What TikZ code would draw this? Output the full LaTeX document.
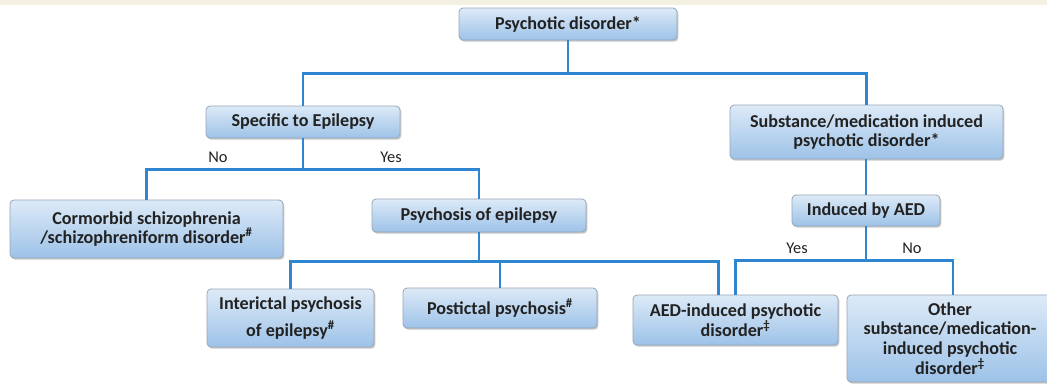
\documentclass[tikz,border=0pt]{standalone}
\usepackage{fontspec}
\setmainfont{Carlito}
\usetikzlibrary{shadows}
\definecolor{linec}{HTML}{2E86D0}
\definecolor{boxtop}{HTML}{DDEAF7}
\definecolor{boxbot}{HTML}{9DC2E8}
\definecolor{boxedge}{HTML}{97A6B8}
\definecolor{txt}{HTML}{222222}
\definecolor{beige}{HTML}{F4F0E2}
\begin{document}
\begin{tikzpicture}[x=0.75pt,y=-0.75pt,
  box/.style 2 args={draw=boxedge, line width=0.6pt, rounded corners=3pt,
    top color=boxtop, bottom color=boxbot,
    minimum width=#1*0.75pt, minimum height=#2*0.75pt, inner sep=1pt,
    align=center, font=\bfseries\fontsize{13.6}{14.8}\selectfont, text=txt,
    drop shadow={shadow xshift=1pt, shadow yshift=-1.3pt, opacity=0.35, fill=black!60}},
  conn/.style={draw=linec, line width=2.2pt},
  lbl/.style={font=\fontsize{12.3}{13}\selectfont, text=txt}]
\fill[white] (0,0) rectangle (1047,387);
\fill[beige] (0,0) rectangle (1047,4.5);
\useasboundingbox (0,0) rectangle (1047,387);

\node[box={218}{32}] (psy) at (568,24) {Psychotic disorder*};
\node[box={194}{32}] (spec) at (303,122) {Specific to Epilepsy};
\node[box={273}{54}] (subst) at (866.5,132) {Substance/medication induced\\psychotic disorder*};
\node[box={273}{58}] (comor) at (146.5,229) {Cormorbid schizophrenia\\/schizophreniform disorder\textsuperscript{\#}};
\node[box={214}{33}] (psyep) at (479,215.5) {Psychosis of epilepsy};
\node[box={148}{31}] (aed) at (866,210.5) {Induced by AED};
\node[box={167}{58}] (inter) at (290.5,318) {Interictal psychosis\\[5.5pt]of epilepsy\textsuperscript{\#}};
\node[box={194}{40}] (post) at (500,308) {Postictal psychosis\textsuperscript{\#}};
\node[box={205}{50}] (aedind) at (735.5,320) {AED-induced psychotic\\disorder\textsuperscript{‡}};
\node[box={206}{87}] (other) at (950,338.5) {Other\\substance/medication-\\induced psychotic\\disorder\textsuperscript{‡}};

\node[lbl] (no1) at (218,157) {No};
\node[lbl] (yes1) at (391,157) {Yes};
\node[lbl] (yes2) at (797,248) {Yes};
\node[lbl] (no2) at (912,248) {No};

% level 1
\path (psy.south) ++(0,33) coordinate (j1);
\draw[conn] (psy.south) -- (j1);
\draw[conn] (spec.north) |- (j1) -| (subst.north);
% level 2
\path (spec.south) ++(0,31) coordinate (j2);
\draw[conn] (spec.south) -- (j2);
\draw[conn] (comor.north) |- (j2) -| (psyep.north);
% level 3
\path (psyep.south) ++(0,29) coordinate (j3);
\draw[conn] (psyep.south) -- (j3);
\draw[conn] (inter.north) |- (j3) -| ([xshift=-13.1pt]aedind.north);
\draw[conn] (post.north) -- (post.north |- j3);
% right branch
\draw[conn] (subst.south -| aed.north) -- (aed.north);
\path (aed.south) ++(0,34) coordinate (j4);
\draw[conn] (aed.south) -- (j4);
\draw[conn] (aedind.north) |- (j4) -| ([xshift=2.25pt]other.north);
\end{tikzpicture}
\end{document}
